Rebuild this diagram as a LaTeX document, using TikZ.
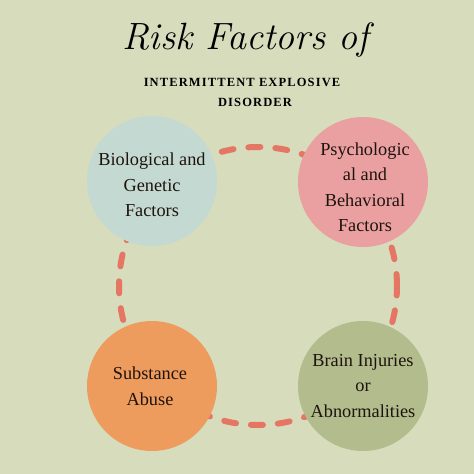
\documentclass[tikz,border=0pt]{standalone}
\usepackage{fontspec}
\newfontfamily\subfont[LetterSpace=9]{Liberation Serif}
\newfontfamily\bodyfont{Liberation Serif}
\definecolor{bgcol}{RGB}{214,220,188}
\definecolor{ringcol}{RGB}{230,118,100}
\definecolor{bluecol}{RGB}{196,217,210}
\definecolor{pinkcol}{RGB}{234,160,160}
\definecolor{orangecol}{RGB}{238,155,94}
\definecolor{olivecol}{RGB}{178,188,140}
\definecolor{inkcol}{RGB}{30,20,14}
\tikzset{
  factor/.style={circle, minimum size=130pt, inner sep=0pt},
  factortext/.style={inner sep=0pt, align=center,
    text=inkcol, font=\bodyfont\fontsize{18.3}{25.5}\selectfont},
  ring/.style={draw=ringcol, line width=6pt, line cap=round,
    dash pattern=on 12pt off 15pt},
}
\begin{document}
\begin{tikzpicture}[x=1pt,y=-1pt]
\fill[bgcol] (0,0) rectangle (474,474);
\useasboundingbox (0,0) rectangle (474,474);
% title
\node[anchor=base, inner sep=0pt, font=\fontsize{38}{38}\selectfont\itshape] (title) at (246,49) {Risk Factors of};
\node[anchor=base, inner sep=0pt, font=\subfont\bfseries\fontsize{12.5}{14}\selectfont] (sub1) at (242,86) {INTERMITTENT EXPLOSIVE};
\node[anchor=base, inner sep=0pt, font=\subfont\bfseries\fontsize{12.5}{14}\selectfont] (sub2) at (255,106) {DISORDER};
% dashed ring behind circles
\coordinate (ringc) at (258,286);
\draw[ring] (ringc) circle[radius=139pt];
% circles
\node[factor, fill=bluecol] (bio) at (152,181) {};
\node[factor, fill=pinkcol] (psy) at (363,182) {};
\node[factor, fill=orangecol] (sub) at (152,386) {};
\node[factor, fill=olivecol] (brain) at (363,386) {};
% texts
\node[factortext] (biotext) at ([yshift=-4pt]bio.center) {Biological and\\Genetic\\Factors};
\node[factortext] (psytext) at ([yshift=-5pt,xshift=2pt]psy.center) {Psychologic\\al and\\Behavioral\\Factors};
\node[factortext] (subtext) at ([xshift=-2pt]sub.center) {Substance\\Abuse};
\node[factortext] (braintext) at (brain.center) {Brain Injuries\\or\\Abnormalities};
\end{tikzpicture}
\end{document}
